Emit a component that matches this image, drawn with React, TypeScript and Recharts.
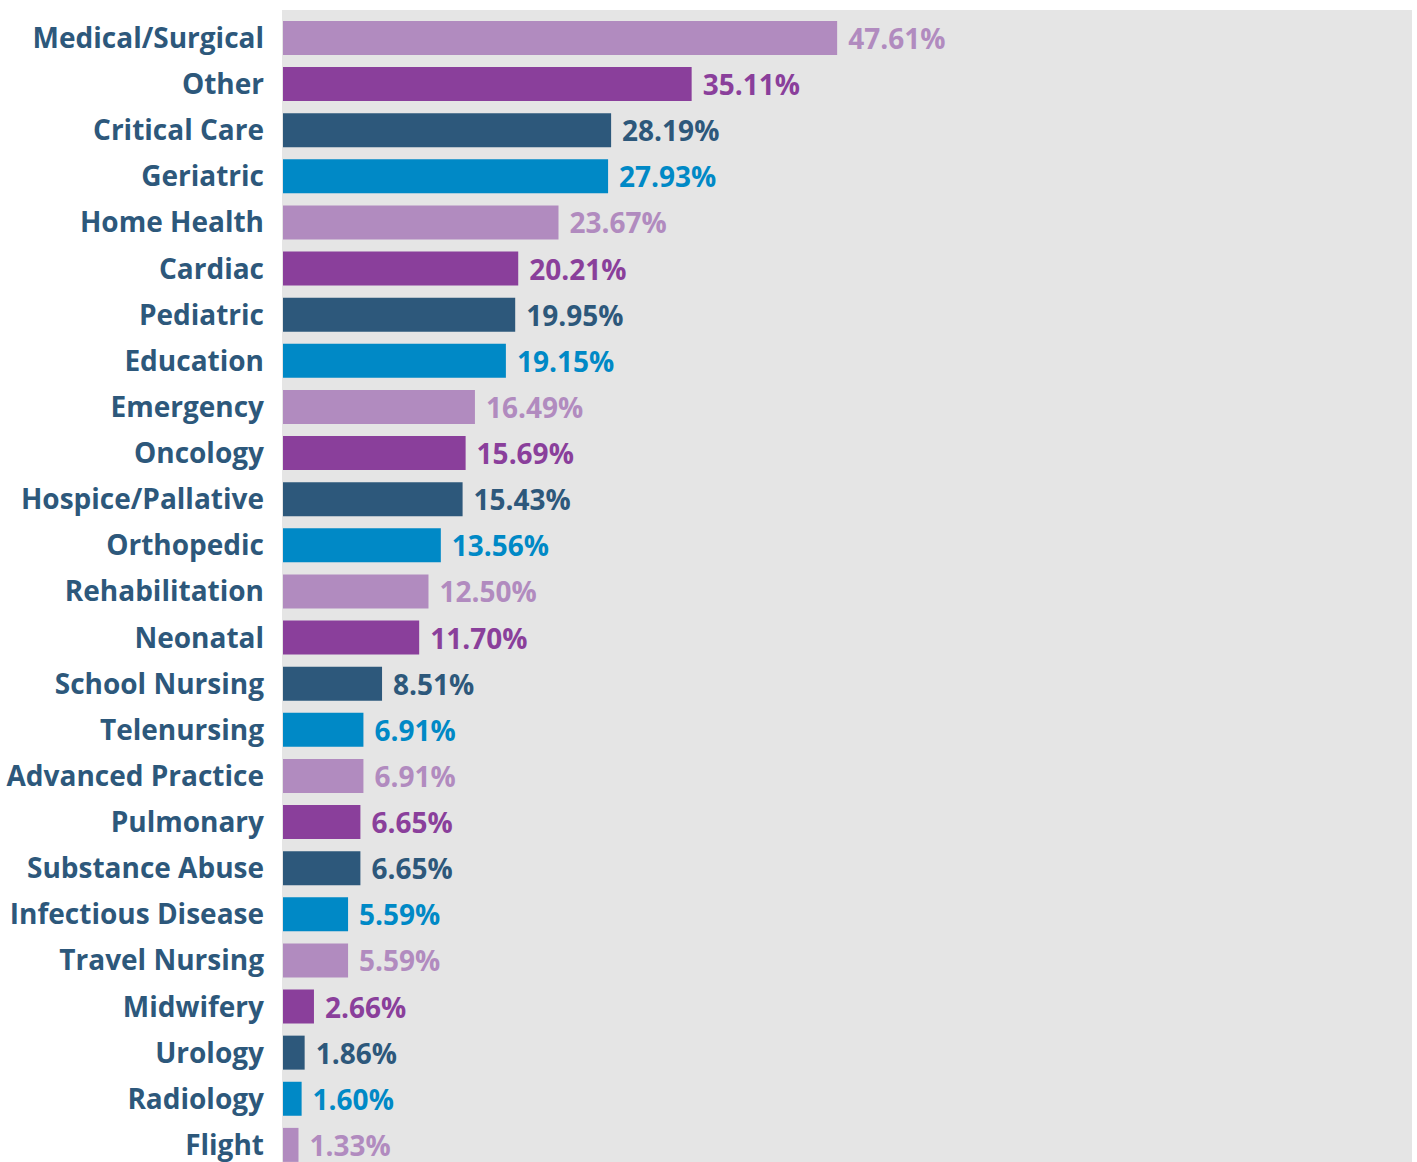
import { Bar, BarChart, Cell, XAxis, YAxis } from 'recharts'

// ── Data ──

const specialties = [
  'Medical/Surgical',
  'Other',
  'Critical Care',
  'Geriatric',
  'Home Health',
  'Cardiac',
  'Pediatric',
  'Education',
  'Emergency',
  'Oncology',
  'Hospice/Pallative',
  'Orthopedic',
  'Rehabilitation',
  'Neonatal',
  'School Nursing',
  'Telenursing',
  'Advanced Practice',
  'Pulmonary',
  'Substance Abuse',
  'Infectious Disease',
  'Travel Nursing',
  'Midwifery',
  'Urology',
  'Radiology',
  'Flight',
]

const percents = [
  47.61, 35.11, 28.19, 27.93, 23.67, 20.21, 19.95, 19.15, 16.49, 15.69, 15.43, 13.56, 12.5, 11.7,
  8.51, 6.91, 6.91, 6.65, 6.65, 5.59, 5.59, 2.66, 1.86, 1.6, 1.33,
]

const PALETTE = ['#b18bbf', '#8a3f9b', '#2d587b', '#0089c6']
const LABEL_COLOR = '#2d587b'
const FONT = '"Open Sans", "Noto Sans", sans-serif'

const data = specialties.map((name, i) => ({ name, value: percents[i] }))

function ValueLabel(props: any) {
  const { x, y, width, height, index, value } = props
  return (
    <text
      x={x + width + 11}
      y={y + height / 2}
      dominantBaseline="central"
      fill={PALETTE[index % PALETTE.length]}
      fontFamily={FONT}
      fontSize={28}
      fontWeight={700}
    >
      {Number(value).toFixed(2)}%
    </text>
  )
}

export default function App() {
  return (
    <div style={{ position: 'relative', width: 1417, height: 1162, overflow: 'hidden' }}>
      <style>{'body{margin:0}'}</style>
      {/* plot panel */}
      <div
        style={{
          position: 'absolute',
          left: 282,
          top: 10,
          width: 1130,
          height: 1160,
          background: '#e5e5e5',
        }}
      />
      <div style={{ position: 'absolute', left: 0, top: 0 }}>
        <BarChart
          data={data}
          height={1168}
          layout="vertical"
          margin={{ top: 15, right: 5, bottom: 0, left: 0 }}
          width={1417}
        >
          <XAxis domain={[0, 97]} hide type="number" />
          <YAxis
            axisLine={false}
            dataKey="name"
            interval={0}
            tick={{ fill: LABEL_COLOR, fontFamily: FONT, fontSize: 28, fontWeight: 700 }}
            tickLine={false}
            tickMargin={19}
            tickSize={0}
            type="category"
            width={283}
          />
          <Bar barSize={34} dataKey="value" isAnimationActive={false} label={ValueLabel}>
            {data.map((_, index) => (
              <Cell fill={PALETTE[index % PALETTE.length]} key={`cell-${index}`} />
            ))}
          </Bar>
        </BarChart>
      </div>
    </div>
  )
}
